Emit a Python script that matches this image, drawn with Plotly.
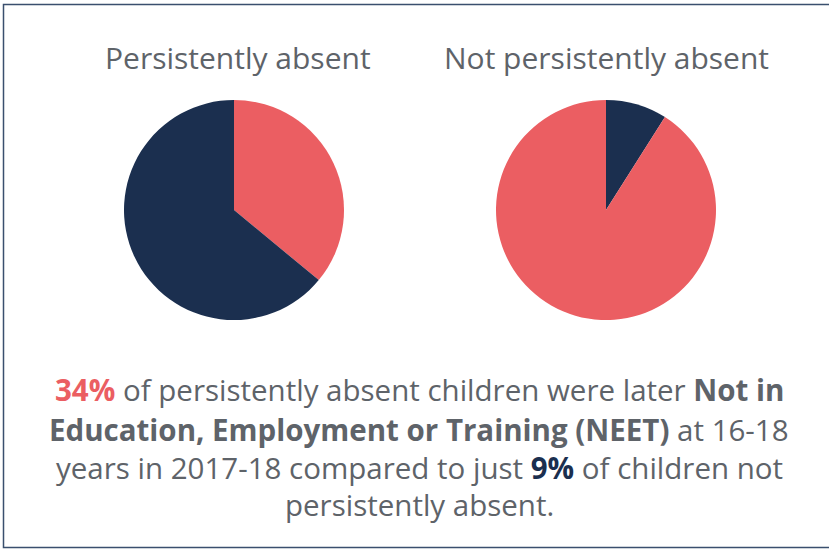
import plotly.graph_objects as go

W, H = 829, 549
titles = ["Persistently absent", "Not persistently absent"]
# slice shares as drawn in the picture (first slice starts at 12 o'clock, clockwise)
slice_labels = [["NEET", "Not NEET"], ["NEET", "Not NEET"]]
slice_values = [[36, 64], [9, 91]]
slice_colors_names = [["red", "navy"], ["navy", "red"]]
headline_pct = ["34%", "9%"]

RED = "#EB5E62"
NAVY = "#1B2F4F"
GRAY = "#5E6369"
FONT = "Open Sans"
palette = {"red": RED, "navy": NAVY}

fig = go.Figure()

centers = [(234, 210), (606, 210)]
R = 110
for i, (cx, cy) in enumerate(centers):
    fig.add_trace(go.Pie(
        labels=slice_labels[i],
        values=slice_values[i],
        marker=dict(colors=[palette[c] for c in slice_colors_names[i]], line=dict(width=0)),
        sort=False, direction="clockwise", rotation=0,
        textinfo="none", hoverinfo="label+percent",
        showlegend=False,
        domain=dict(x=[(cx - R) / W, (cx + R) / W],
                    y=[1 - (cy + R) / H, 1 - (cy - R) / H]),
    ))

title_x = [238, 606]
for i, t in enumerate(titles):
    fig.add_annotation(text=t, x=title_x[i] / W, y=1 - 57 / H, xref="paper", yref="paper",
                       showarrow=False, xanchor="center", yanchor="middle",
                       font=dict(family=FONT, size=30, color=GRAY))

lines = [
    f"<b><span style='color:{RED}'>{headline_pct[0]}</span></b> of persistently absent children were later <b>Not in</b>",
    "<b>Education, Employment or Training (NEET)</b> at 16-18",
    f"years in 2017-18 compared to just <b><span style='color:{NAVY}'>{headline_pct[1]}</span></b> of children not",
    "persistently absent.",
]
line_y = [389, 429, 467, 505]
for ln, yy in zip(lines, line_y):
    fig.add_annotation(text=ln, x=419 / W, y=1 - yy / H, xref="paper", yref="paper",
                       showarrow=False, xanchor="center", yanchor="middle",
                       font=dict(family=FONT, size=29.5, color=GRAY))

fig.add_shape(type="rect", xref="paper", yref="paper",
              x0=3.5 / W, x1=835 / W, y0=1 - 547.5 / H, y1=1 - 4.5 / H,
              line=dict(color="#3A4F6E", width=1.5))

fig.update_layout(width=W, height=H, margin=dict(l=0, r=0, t=0, b=0),
                  paper_bgcolor="white", plot_bgcolor="white")
fig.write_html("out.html")
